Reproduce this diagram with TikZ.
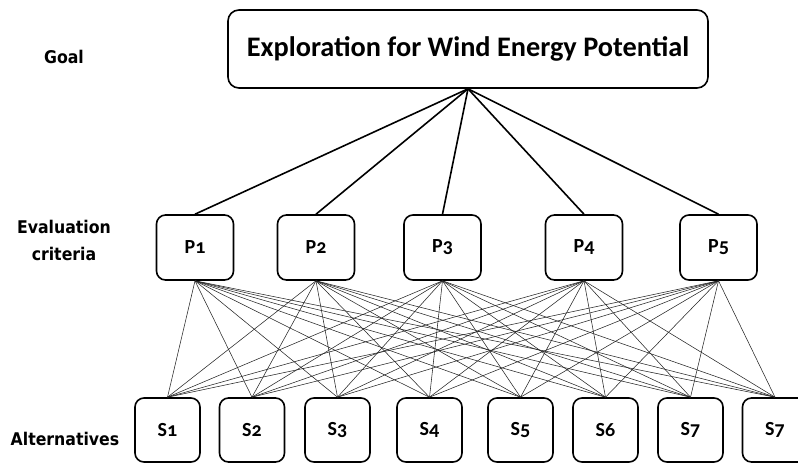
\documentclass[tikz,border=0pt]{standalone}
\usepackage{fontspec}
\setmainfont{Carlito}
\newfontfamily\boxfont[Numbers=OldStyle]{Carlito}
\newfontfamily\sidefont{DejaVu Sans Condensed}
\begin{document}
\begin{tikzpicture}[x=1pt,y=-1pt,
  goalbox/.style={draw,line width=1.6pt,rounded corners=11pt,fill=white,minimum width=480pt,minimum height=78pt,inner sep=0pt,
    font=\fontsize{28.3}{30}\selectfont\bfseries},
  pbox/.style={draw,line width=1.6pt,rounded corners=9pt,fill=white,minimum width=77pt,minimum height=65pt,inner sep=0pt,
    font=\boxfont\fontsize{20}{22}\selectfont\bfseries},
  sbox/.style={draw,line width=1.6pt,rounded corners=9pt,fill=white,minimum width=65pt,minimum height=64pt,inner sep=0pt,
    font=\boxfont\fontsize{20}{22}\selectfont\bfseries},
  side/.style={font=\sidefont\fontsize{17.5}{27}\selectfont\bfseries,align=center,inner sep=0pt},
  major/.style={line width=1.6pt},
  minor/.style={line width=0.55pt,black!85}]
\useasboundingbox (0,0) rectangle (798,464);
\node[goalbox] (goal) at (468,49) {Exploration for Wind Energy Potential};
\node[pbox] (p1) at (195,247.5) {P1};
\node[pbox] (p2) at (316,247.5) {P2};
\node[pbox] (p3) at (442.5,247.5) {P3};
\node[pbox] (p4) at (584,247.5) {P4};
\node[pbox] (p5) at (718.5,247.5) {P5};
\node[sbox] (s1) at (167.5,430) {S1};
\node[sbox] (s2) at (252,430) {S2};
\node[sbox] (s3) at (337.5,430) {S3};
\node[sbox] (s4) at (429.5,430) {S4};
\node[sbox] (s5) at (520.5,430) {S5};
\node[sbox] (s6) at (605.5,430) {S6};
\node[sbox] (s7) at (690.5,430) {S7};
\node[sbox] (s8) at (775,430) {S7};
\node[side] (lgoal) at (64,57) {Goal};
\node[side] (lcrit) at (64,240) {Evaluation\\criteria};
\node[side] (lalt) at (65,439) {Alternatives};
\foreach \p in {p1,p2,p3,p4,p5}{
  \draw[major] (goal.south) -- (\p.north);
  \foreach \s in {s1,s2,s3,s4,s5,s6,s7,s8}{
    \draw[minor] (\p.south) -- (\s.north);
  }
}
\end{tikzpicture}
\end{document}
